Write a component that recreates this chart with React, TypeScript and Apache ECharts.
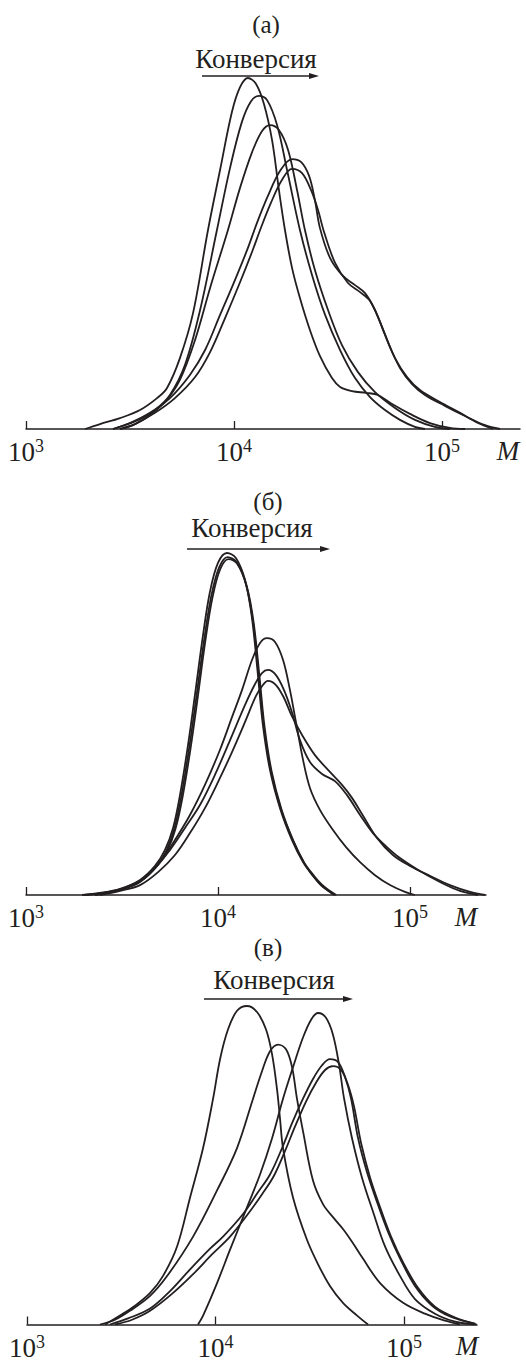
import React, { useEffect, useRef } from "react";
import * as echarts from "echarts";

// ---------- data: lg M and normalised weight fraction ----------
const tickExponents = [3, 4, 5];
const panelTitles = ["(а)", "(б)", "(в)"];
const arrowLabel = "Конверсия";
const axisName = "M";

// panel (а)
const a1 = [[3.284,0],[3.356,0.014],[3.452,0.031],[3.548,0.054],[3.630,0.088],[3.678,0.117],[3.740,0.202],[3.803,0.330],[3.875,0.567],[3.933,0.738],[3.990,0.903],[4.029,0.974],[4.067,1.000],[4.106,0.983],[4.144,0.926],[4.183,0.823],[4.216,0.681],[4.245,0.567],[4.279,0.459],[4.317,0.373],[4.365,0.282],[4.413,0.208],[4.471,0.145],[4.510,0.120],[4.567,0.108],[4.635,0.103],[4.692,0.097],[4.760,0.071],[4.846,0.043],[4.942,0.017],[5.038,0.003],[5.111,0]];
const a2 = [[3.418,0],[3.476,0.011],[3.548,0.028],[3.620,0.054],[3.692,0.097],[3.764,0.182],[3.837,0.339],[3.918,0.567],[3.981,0.744],[4.038,0.875],[4.082,0.934],[4.120,0.949],[4.159,0.937],[4.207,0.866],[4.255,0.738],[4.317,0.567],[4.375,0.439],[4.438,0.325],[4.510,0.225],[4.582,0.145],[4.654,0.091],[4.726,0.054],[4.798,0.026],[4.870,0.006],[4.918,0]];
const a3 = [[3.452,0],[3.524,0.014],[3.596,0.040],[3.668,0.077],[3.740,0.140],[3.813,0.254],[3.885,0.402],[3.971,0.567],[4.029,0.687],[4.087,0.789],[4.135,0.849],[4.173,0.866],[4.216,0.852],[4.260,0.795],[4.303,0.681],[4.341,0.567],[4.389,0.453],[4.452,0.339],[4.519,0.239],[4.596,0.162],[4.678,0.105],[4.774,0.060],[4.870,0.026],[4.966,0.006],[5.038,0]];
const a4 = [[3.418,0],[3.500,0.017],[3.596,0.046],[3.692,0.088],[3.788,0.154],[3.861,0.225],[3.933,0.325],[4.005,0.425],[4.067,0.516],[4.111,0.588],[4.163,0.664],[4.221,0.735],[4.279,0.769],[4.322,0.761],[4.361,0.721],[4.389,0.652],[4.413,0.573],[4.462,0.487],[4.524,0.436],[4.582,0.410],[4.630,0.387],[4.678,0.339],[4.726,0.268],[4.774,0.202],[4.832,0.148],[4.894,0.111],[4.990,0.077],[5.087,0.046],[5.173,0.017],[5.245,0]];
const a5 = [[3.452,0],[3.524,0.014],[3.620,0.046],[3.716,0.088],[3.813,0.148],[3.885,0.219],[3.957,0.316],[4.029,0.418],[4.087,0.505],[4.130,0.574],[4.178,0.645],[4.231,0.710],[4.279,0.741],[4.327,0.729],[4.370,0.681],[4.404,0.624],[4.433,0.561],[4.486,0.473],[4.548,0.416],[4.606,0.390],[4.654,0.365],[4.702,0.305],[4.750,0.234],[4.798,0.174],[4.856,0.128],[4.918,0.097],[5.014,0.066],[5.111,0.037],[5.207,0.011],[5.279,0]];

// panel (б)
const b1 = [[3.292,0],[3.385,0.006],[3.490,0.018],[3.594,0.044],[3.672,0.085],[3.724,0.132],[3.766,0.196],[3.802,0.292],[3.844,0.439],[3.880,0.585],[3.922,0.760],[3.958,0.886],[4.000,0.971],[4.047,1.000],[4.094,0.985],[4.141,0.921],[4.177,0.810],[4.208,0.643],[4.234,0.497],[4.271,0.365],[4.323,0.254],[4.385,0.161],[4.443,0.096],[4.495,0.056],[4.531,0.032],[4.568,0.015],[4.604,0]];
const b2 = [[3.300,0],[3.392,0.005],[3.497,0.017],[3.600,0.042],[3.679,0.083],[3.731,0.129],[3.772,0.193],[3.809,0.289],[3.851,0.434],[3.887,0.578],[3.929,0.750],[3.965,0.874],[4.006,0.958],[4.050,0.988],[4.097,0.973],[4.146,0.908],[4.182,0.800],[4.213,0.636],[4.239,0.492],[4.276,0.362],[4.327,0.252],[4.390,0.160],[4.447,0.095],[4.498,0.054],[4.535,0.030],[4.572,0.013],[4.610,0]];
const b3 = [[3.310,0],[3.400,0.006],[3.503,0.019],[3.606,0.045],[3.684,0.086],[3.737,0.131],[3.778,0.192],[3.815,0.285],[3.857,0.428],[3.893,0.571],[3.934,0.742],[3.970,0.866],[4.011,0.952],[4.055,0.982],[4.101,0.968],[4.150,0.903],[4.186,0.796],[4.217,0.634],[4.243,0.490],[4.280,0.360],[4.331,0.250],[4.393,0.158],[4.450,0.094],[4.502,0.055],[4.540,0.031],[4.578,0.014],[4.616,0]];
const b4 = [[3.359,0],[3.490,0.015],[3.594,0.038],[3.698,0.096],[3.776,0.161],[3.854,0.234],[3.932,0.322],[4.010,0.424],[4.073,0.520],[4.125,0.599],[4.177,0.687],[4.219,0.737],[4.255,0.751],[4.297,0.740],[4.339,0.687],[4.375,0.599],[4.406,0.506],[4.443,0.395],[4.479,0.313],[4.531,0.249],[4.599,0.190],[4.667,0.140],[4.740,0.096],[4.818,0.058],[4.896,0.029],[4.974,0.009],[5.026,0]];
const b5 = [[3.359,0],[3.464,0.012],[3.568,0.032],[3.672,0.079],[3.750,0.132],[3.828,0.196],[3.906,0.263],[3.984,0.351],[4.063,0.453],[4.141,0.556],[4.193,0.617],[4.229,0.649],[4.260,0.658],[4.302,0.643],[4.344,0.599],[4.385,0.535],[4.427,0.453],[4.479,0.389],[4.542,0.354],[4.609,0.333],[4.672,0.292],[4.740,0.234],[4.807,0.181],[4.880,0.140],[4.948,0.108],[5.052,0.070],[5.156,0.038],[5.260,0.012],[5.354,0]];
const b6 = [[3.385,0],[3.490,0.012],[3.594,0.029],[3.688,0.067],[3.776,0.117],[3.854,0.181],[3.932,0.254],[4.000,0.330],[4.073,0.418],[4.141,0.506],[4.198,0.582],[4.234,0.614],[4.260,0.626],[4.302,0.614],[4.344,0.576],[4.385,0.523],[4.438,0.468],[4.505,0.409],[4.583,0.360],[4.646,0.322],[4.698,0.284],[4.750,0.237],[4.828,0.167],[4.911,0.117],[5.000,0.085],[5.104,0.056],[5.208,0.029],[5.313,0.009],[5.391,0]];

// panel (в)
const c1 = [[3.414,0],[3.493,0.028],[3.573,0.059],[3.653,0.099],[3.721,0.152],[3.796,0.245],[3.865,0.399],[3.934,0.554],[3.987,0.709],[4.024,0.833],[4.066,0.926],[4.114,0.985],[4.167,1.000],[4.220,0.981],[4.268,0.926],[4.300,0.848],[4.326,0.740],[4.342,0.647],[4.358,0.554],[4.411,0.399],[4.485,0.266],[4.544,0.189],[4.607,0.121],[4.676,0.068],[4.751,0.028],[4.809,0]];
const c2 = [[3.387,0],[3.467,0.015],[3.546,0.043],[3.653,0.090],[3.743,0.152],[3.881,0.276],[4.008,0.421],[4.114,0.554],[4.199,0.709],[4.247,0.796],[4.289,0.858],[4.332,0.879],[4.374,0.864],[4.406,0.808],[4.432,0.709],[4.464,0.607],[4.517,0.452],[4.570,0.378],[4.623,0.337],[4.676,0.300],[4.724,0.260],[4.782,0.207],[4.873,0.130],[4.995,0.068],[5.111,0.034],[5.218,0.012],[5.297,0]];
const c3 = [[3.907,0],[3.934,0.028],[4.008,0.130],[4.077,0.235],[4.167,0.368],[4.236,0.471],[4.300,0.585],[4.358,0.709],[4.411,0.808],[4.464,0.901],[4.507,0.957],[4.544,0.978],[4.586,0.963],[4.623,0.910],[4.655,0.817],[4.682,0.709],[4.724,0.585],[4.777,0.461],[4.836,0.353],[4.899,0.245],[4.979,0.152],[5.058,0.080],[5.164,0.034],[5.271,0.009],[5.377,0]];
const c4 = [[3.440,0],[3.536,0.019],[3.653,0.050],[3.759,0.105],[3.865,0.173],[3.971,0.238],[4.040,0.276],[4.146,0.347],[4.225,0.415],[4.289,0.471],[4.353,0.554],[4.406,0.632],[4.464,0.709],[4.517,0.771],[4.565,0.814],[4.607,0.833],[4.650,0.824],[4.687,0.777],[4.719,0.709],[4.756,0.585],[4.804,0.477],[4.857,0.384],[4.915,0.291],[4.979,0.207],[5.058,0.121],[5.149,0.059],[5.244,0.025],[5.350,0.006],[5.385,0]];
const c5 = [[3.467,0],[3.557,0.015],[3.653,0.043],[3.769,0.096],[3.881,0.158],[3.981,0.220],[4.077,0.276],[4.172,0.347],[4.247,0.409],[4.310,0.467],[4.369,0.545],[4.422,0.622],[4.480,0.700],[4.533,0.759],[4.581,0.799],[4.623,0.811],[4.666,0.799],[4.703,0.752],[4.735,0.684],[4.772,0.570],[4.820,0.461],[4.873,0.368],[4.931,0.276],[4.995,0.195],[5.074,0.115],[5.164,0.056],[5.271,0.022],[5.377,0.003]];

const panelSeries = [
  [a1, a2, a3, a4, a5],
  [b1, b2, b3, b4, b5, b6],
  [c1, c2, c3, c4, c5],
];
const axisMax = [5.375, 5.396, 5.387];

// ---------- layout (pixels) ----------
const FONT = "Liberation Serif";
const INK = "#231f20";
const grids = [
  { left: 26, width: 494, top: 78, height: 351 },
  { left: 26, width: 460, top: 553, height: 342 },
  { left: 27, width: 450, top: 1006, height: 323 },
];
const nameGaps = [-12, -20, -10];
const headers = [
  { title: [266, 24], label: [256, 59], arrow: [202, 319, 76] },
  { title: [268, 501], label: [252, 528], arrow: [187, 330, 549] },
  { title: [268, 947], label: [274, 980], arrow: [204, 353, 999] },
];

export default function App() {
  const ref = useRef<HTMLDivElement>(null);
  useEffect(() => {
    if (!ref.current) return;
    const chart = echarts.init(ref.current, null, { renderer: "svg" });

    const xAxis = grids.map((_, i) => ({
      type: "value",
      gridIndex: i,
      min: 3,
      max: axisMax[i],
      name: axisName,
      nameLocation: "end",
      nameGap: nameGaps[i],
      nameTextStyle: {
        fontFamily: FONT,
        fontStyle: "italic",
        fontSize: 27,
        color: INK,
        align: "center",
        verticalAlign: "top",
        padding: [8, 0, 0, 0],
      },
      splitLine: { show: false },
      axisLine: { show: true, onZero: false, lineStyle: { color: INK, width: 1.5 } },
      axisTick: {
        show: true,
        inside: true,
        length: 8,
        customValues: tickExponents,
        lineStyle: { color: INK, width: 1.3 },
      },
      axisLabel: {
        show: true,
        margin: 8,
        customValues: tickExponents,
        formatter: (v: number) => `{b|10}{s|${Math.round(v)}}`,
        rich: {
          b: { fontFamily: FONT, fontSize: 27, color: INK, lineHeight: 30 },
          s: { fontFamily: FONT, fontSize: 18, color: INK, verticalAlign: "top", lineHeight: 18 },
        },
      },
    }));
    const yAxis = grids.map((_, i) => ({
      type: "value",
      gridIndex: i,
      min: 0,
      max: 1,
      show: false,
    }));

    const series: any[] = [];
    panelSeries.forEach((curves, i) => {
      curves.forEach((d, j) => {
        series.push({
          type: "line",
          name: `${i}-${j}`,
          xAxisIndex: i,
          yAxisIndex: i,
          data: d,
          showSymbol: false,
          smooth: 0.35,
          lineStyle: { color: INK, width: 1.8 },
          z: 3,
        });
      });
    });

    const graphic: any[] = [];
    headers.forEach((h, i) => {
      graphic.push({
        type: "text",
        x: h.title[0],
        y: h.title[1],
        style: { text: panelTitles[i], fontFamily: FONT, fontSize: 25, fill: INK, align: "center", verticalAlign: "middle" },
      });
      graphic.push({
        type: "text",
        x: h.label[0],
        y: h.label[1],
        style: { text: arrowLabel, fontFamily: FONT, fontSize: 27, fill: INK, align: "center", verticalAlign: "middle" },
      });
      const [x0, x1, y] = h.arrow;
      graphic.push({
        type: "line",
        shape: { x1: x0, y1: y, x2: x1 - 6, y2: y },
        style: { stroke: INK, lineWidth: 1.4 },
      });
      graphic.push({
        type: "polygon",
        shape: { points: [[x1, y], [x1 - 10, y - 3], [x1 - 10, y + 3]] },
        style: { fill: INK },
      });
    });

    chart.setOption({
      animation: false,
      backgroundColor: "#ffffff",
      grid: grids.map((g) => ({ ...g, containLabel: false })),
      xAxis,
      yAxis,
      series,
      graphic,
    });
    return () => chart.dispose();
  }, []);
  return (
    <div
      ref={ref}
      style={{ position: "absolute", left: 0, top: 0, width: 526, height: 1361 }}
    />
  );
}
